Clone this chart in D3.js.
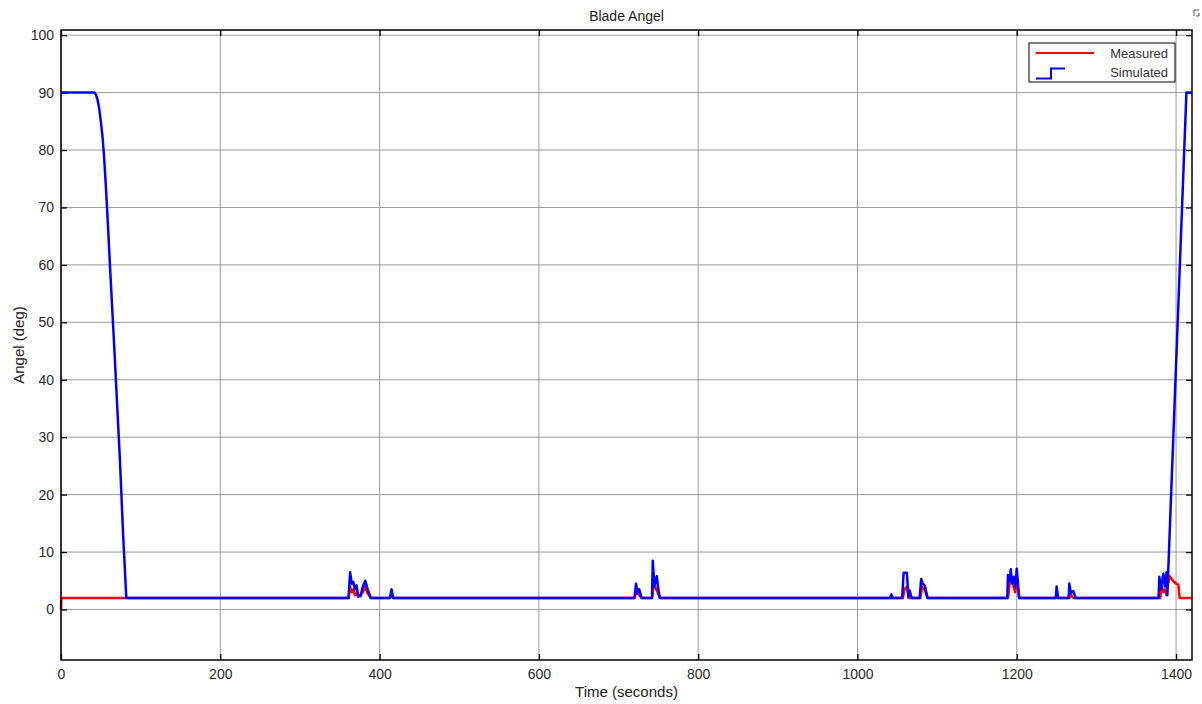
<!DOCTYPE html>
<html>
<head>
<meta charset="utf-8">
<script src="https://cdn.jsdelivr.net/npm/d3@7"></script>
<style>
  body { margin: 0; background: #fff; }
  svg { font-family: "Liberation Sans", Arial, sans-serif; }
</style>
</head>
<body>
<svg width="1202" height="704"></svg>
<script>
// data
const xTicks = [0, 200, 400, 600, 800, 1000, 1200, 1400]
const yTicks = [0, 10, 20, 30, 40, 50, 60, 70, 80, 90, 100]

const simTime = [0, 42, 44, 46, 48, 50, 52, 54, 56, 58, 62, 66, 70, 74, 78, 82,
  361, 363, 365, 367, 369, 371, 373, 376, 379, 382, 385, 389,
  413, 415, 417,
  720, 722, 724, 726, 729, 742, 743, 745, 748, 750, 752,
  1041, 1042.5, 1044, 1056, 1058, 1062, 1064, 1065.5, 1068,
  1078, 1080, 1082, 1084.5, 1088,
  1188, 1189, 1191, 1192.5, 1194, 1196, 1198, 1200, 1203,
  1249, 1250, 1252, 1265, 1266, 1268, 1271, 1274,
  1378, 1379, 1381, 1384, 1386, 1388, 1389, 1413, 1420]
const simAngle = [90, 90, 89.6, 88.7, 87.2, 85, 82.5, 79, 74.5, 69.5, 58.5, 48, 37, 26, 13, 2,
  2, 6.5, 4.5, 4.8, 3.5, 4.2, 2.5, 2.3, 4, 5, 3.5, 2,
  2, 3.5, 2,
  2, 4.5, 2.8, 3.5, 2, 2, 8.5, 4, 5.8, 3.5, 2,
  2, 2.6, 2, 2, 6.4, 6.4, 2.2, 3.3, 2,
  2, 5.3, 4.5, 4.2, 2,
  2, 6, 5, 7, 4.5, 5.7, 4, 7.1, 2,
  2, 4, 2, 2, 4.5, 2.8, 3.2, 2,
  2, 5.7, 3.5, 6.2, 4, 6.5, 2.5, 90, 90]

const measTime = [0, 0.5,
  361, 363, 365, 367, 369, 371, 373, 379, 382, 385, 389,
  413, 415, 417,
  720, 722, 726, 729, 742, 744, 746, 749, 752,
  1057, 1059, 1062, 1064, 1079, 1081, 1084, 1088,
  1189, 1191, 1193, 1196, 1198, 1200, 1203,
  1266, 1268, 1271,
  1380, 1382, 1384, 1386, 1388, 1390, 1392, 1396, 1401, 1403, 1404.5, 1420]
const measAngle = [0, 2,
  2, 4, 3, 3.5, 2.5, 3, 2.2, 3, 4, 2.8, 2,
  2, 2.5, 2,
  2, 3, 2.5, 2, 2, 3.9, 4, 3, 2,
  2, 3.5, 4, 2, 2, 4, 3.5, 2,
  2, 4.5, 5.5, 4, 3, 5, 2,
  2, 2.5, 2,
  2, 4, 3, 3.5, 2.5, 4.5, 5.8, 5, 4.4, 4.3, 2, 2]

const svg = d3.select("svg")
const L = 61, R = 1192, T = 30, B = 660

const x = d3.scaleLinear().domain([0, 1420]).range([L, R])
const y = d3.scaleLinear().domain([-8.8, 100.9]).range([B, T])

// grid
svg.append("g").selectAll("line").data(xTicks).enter().append("line")
  .attr("x1", d => x(d)).attr("x2", d => x(d)).attr("y1", T).attr("y2", B)
  .attr("stroke", "#9a9a9a").attr("stroke-width", 1)
svg.append("g").selectAll("line").data(yTicks).enter().append("line")
  .attr("y1", d => y(d)).attr("y2", d => y(d)).attr("x1", L).attr("x2", R)
  .attr("stroke", "#9a9a9a").attr("stroke-width", 1)

// axes with inward ticks
const axStyle = g => {
  g.select(".domain").remove()
  g.selectAll(".tick line").attr("stroke", "#000").attr("stroke-width", 1.3)
  g.selectAll(".tick text").attr("fill", "#2a2a2a").style("font-size", "14px")
}
svg.append("g").attr("transform", `translate(0,${B})`)
  .call(d3.axisBottom(x).tickValues(xTicks).tickFormat(d3.format("d"))
    .tickSizeInner(-6).tickSizeOuter(0).tickPadding(9))
  .call(axStyle)
svg.append("g").attr("transform", `translate(0,${T})`)
  .call(d3.axisTop(x).tickValues(xTicks).tickSizeInner(-6).tickSizeOuter(0).tickFormat(""))
  .call(axStyle)
svg.append("g").attr("transform", `translate(${L},0)`)
  .call(d3.axisLeft(y).tickValues(yTicks).tickSizeInner(-6).tickSizeOuter(0).tickPadding(7))
  .call(axStyle)
svg.append("g").attr("transform", `translate(${R},0)`)
  .call(d3.axisRight(y).tickValues(yTicks).tickSizeInner(-6).tickSizeOuter(0).tickFormat(""))
  .call(axStyle)

// lines
const line = d3.line().x(d => x(d[0])).y(d => y(d[1]))
const meas = measTime.map((t, i) => [t, measAngle[i]])
const sim = simTime.map((t, i) => [t, simAngle[i]])

svg.append("path").datum(meas).attr("d", line)
  .attr("fill", "none").attr("stroke", "#ff0000").attr("stroke-width", 2.5)
  .attr("stroke-linejoin", "round")
svg.append("path").datum(sim).attr("d", line)
  .attr("fill", "none").attr("stroke", "#0000ff").attr("stroke-width", 2.5)
  .attr("stroke-linejoin", "round")

// frame
svg.append("rect").attr("x", L).attr("y", T).attr("width", R - L).attr("height", B - T)
  .attr("fill", "none").attr("stroke", "#000").attr("stroke-width", 1.5)

// labels
svg.append("text").attr("x", (L + R) / 2).attr("y", 21).attr("text-anchor", "middle")
  .style("font-size", "14px").attr("fill", "#222").text("Blade Angel")
svg.append("text").attr("x", (L + R) / 2).attr("y", 697).attr("text-anchor", "middle")
  .style("font-size", "15px").attr("fill", "#222").text("Time (seconds)")
svg.append("text").attr("transform", `translate(24,${(T + B) / 2}) rotate(-90)`)
  .attr("text-anchor", "middle").style("font-size", "15px").attr("fill", "#222").text("Angel (deg)")

// legend
const lg = svg.append("g")
lg.append("rect").attr("x", 1029).attr("y", 43).attr("width", 146).attr("height", 39)
  .attr("fill", "#fff").attr("stroke", "#000").attr("stroke-width", 1)
lg.append("line").attr("x1", 1036).attr("x2", 1094).attr("y1", 53).attr("y2", 53)
  .attr("stroke", "#ff0000").attr("stroke-width", 2)
lg.append("path").attr("d", "M1036,78.5H1051V68.5H1065")
  .attr("fill", "none").attr("stroke", "#0000ff").attr("stroke-width", 2)
lg.append("text").attr("x", 1168).attr("y", 58).attr("text-anchor", "end")
  .style("font-size", "13px").attr("fill", "#333").text("Measured")
lg.append("text").attr("x", 1168).attr("y", 77).attr("text-anchor", "end")
  .style("font-size", "13px").attr("fill", "#333").text("Simulated")

// little corner glyph
svg.append("path").attr("d", "M1194,16V10H1199M1196,16H1199V13")
  .attr("fill", "none").attr("stroke", "#555").attr("stroke-width", 1)
</script>
</body>
</html>
